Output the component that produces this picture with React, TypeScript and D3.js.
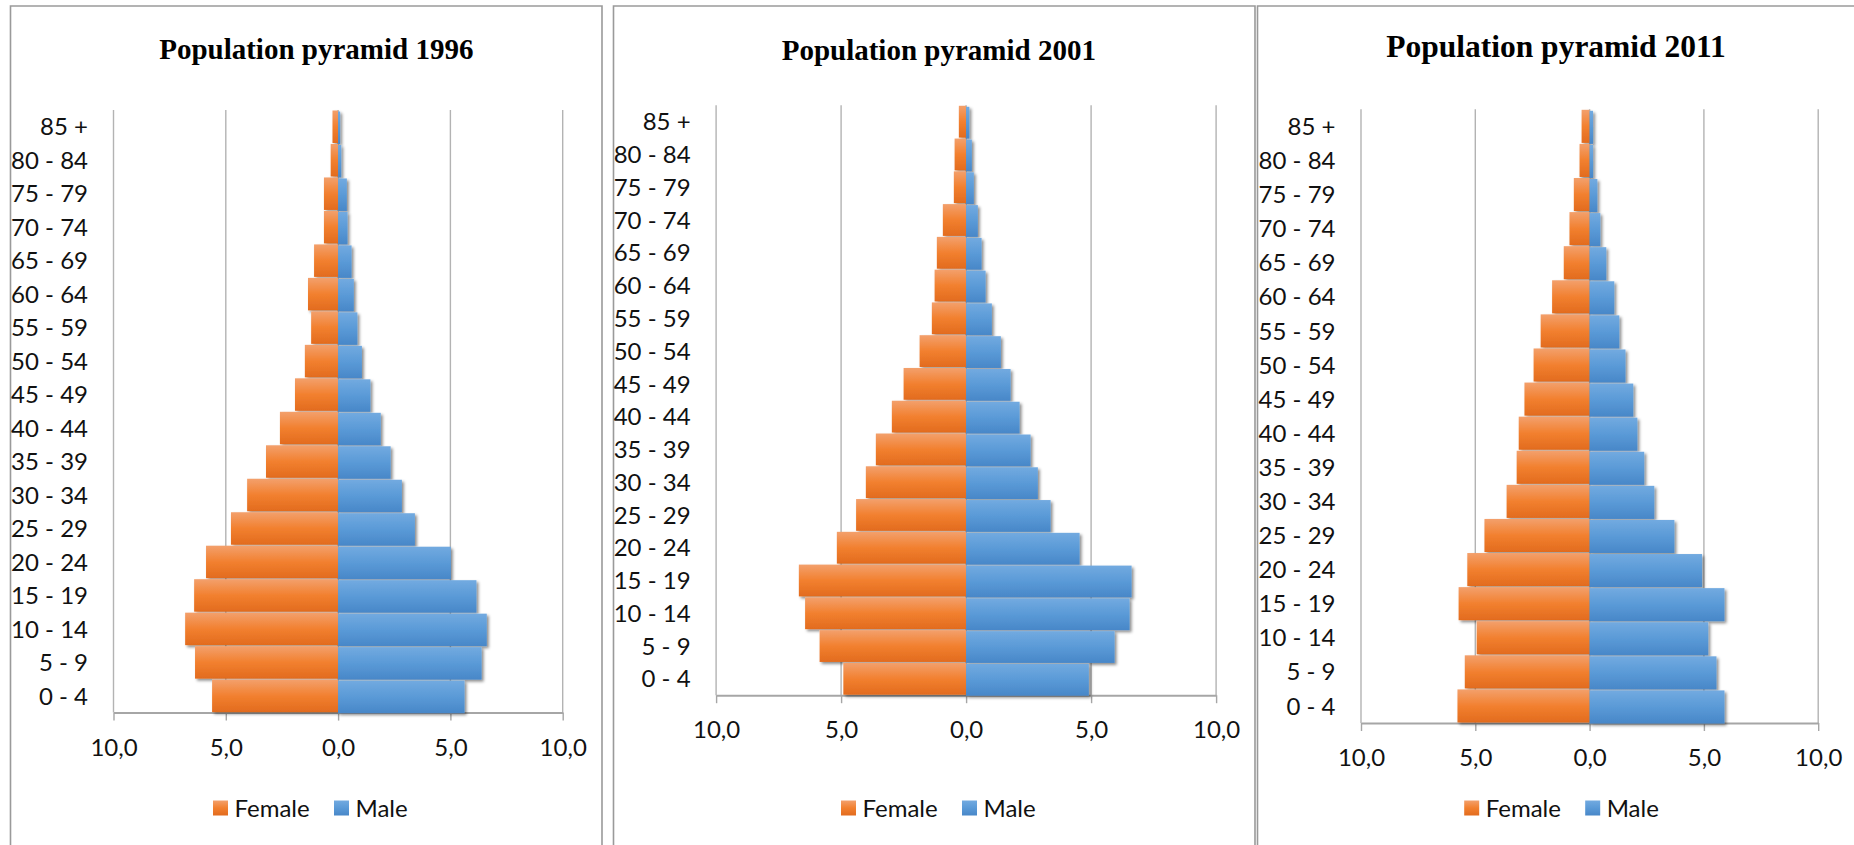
import React, { useRef, useEffect } from 'react';
import * as d3 from 'd3';

// age groups, bottom to top
const ageGroups = [
  '0 - 4', '5 - 9', '10 - 14', '15 - 19', '20 - 24', '25 - 29', '30 - 34', '35 - 39', '40 - 44',
  '45 - 49', '50 - 54', '55 - 59', '60 - 64', '65 - 69', '70 - 74', '75 - 79', '80 - 84', '85 +',
];

// share of population (%) per age group
const female1996 = [5.61, 6.37, 6.81, 6.41, 5.88, 4.77, 4.05, 3.21, 2.59, 1.92, 1.48, 1.2, 1.34, 1.07, 0.63, 0.63, 0.33, 0.25];
const male1996 = [5.63, 6.39, 6.62, 6.16, 5.02, 3.42, 2.84, 2.34, 1.9, 1.44, 1.06, 0.86, 0.7, 0.6, 0.42, 0.39, 0.14, 0.09];

const female2001 = [4.91, 5.86, 6.44, 6.69, 5.17, 4.4, 4.01, 3.61, 2.97, 2.5, 1.86, 1.37, 1.26, 1.17, 0.93, 0.49, 0.46, 0.29];
const male2001 = [4.91, 5.94, 6.54, 6.62, 4.54, 3.38, 2.87, 2.58, 2.14, 1.78, 1.39, 1.03, 0.78, 0.62, 0.47, 0.31, 0.23, 0.13];

const female2011 = [5.78, 5.46, 4.94, 5.73, 5.35, 4.6, 3.63, 3.19, 3.1, 2.85, 2.45, 2.14, 1.64, 1.13, 0.88, 0.69, 0.44, 0.35];
const male2011 = [5.9, 5.55, 5.19, 5.9, 4.92, 3.71, 2.83, 2.39, 2.09, 1.91, 1.57, 1.3, 1.08, 0.73, 0.47, 0.34, 0.15, 0.15];

const years = ['1996', '2001', '2011'];
const seriesNames = ['Female', 'Male'];
const tickValues = [-10, -5, 0, 5, 10];

const LABEL_FONT = 'Lato, "Open Sans", sans-serif';
const TITLE_FONT = '"Liberation Serif", "Times New Roman", serif';

const App: React.FC = () => {
  const svgRef = useRef<SVGSVGElement>(null);

  useEffect(() => {
    if (!svgRef.current) return;
    const svg = d3.select(svgRef.current);
    svg.selectAll('*').remove();

    const panels = [
      {
        year: years[0], female: female1996, male: male1996,
        box: [10.5, 602], left: 113.5, right: 562.7, top: 110, bottom: 712.6,
        titleX: 316.3, titleY: 59.3, titleSize: 29, legendX: 213,
      },
      {
        year: years[1], female: female2001, male: male2001,
        box: [613.5, 1255], left: 716.1, right: 1216.1, top: 105.3, bottom: 695.2,
        titleX: 938.8, titleY: 60, titleSize: 29, legendX: 841,
      },
      {
        year: years[2], female: female2011, male: male2011,
        box: [1257.5, 1870], left: 1361, right: 1818.2, top: 109.3, bottom: 723,
        titleX: 1556, titleY: 56.7, titleSize: 31.5, legendX: 1464.2,
      },
    ];

    const defs = svg.append('defs');

    const addGradient = (id: string, stops: string[]) => {
      const g = defs.append('linearGradient').attr('id', id)
        .attr('x1', 0).attr('y1', 0).attr('x2', 0).attr('y2', 1);
      stops.forEach((c, i) => {
        g.append('stop').attr('offset', `${(i / (stops.length - 1)) * 100}%`).attr('stop-color', c);
      });
    };
    addGradient('grad-female', ['#f3a06c', '#f2802f', '#e26b1e']);
    addGradient('grad-male', ['#72aae0', '#5a9ad7', '#4887c8']);

    const shadow = defs.append('filter').attr('id', 'bar-shadow')
      .attr('x', '-10%').attr('y', '-20%').attr('width', '130%').attr('height', '160%');
    shadow.append('feDropShadow')
      .attr('dx', 2).attr('dy', 2).attr('stdDeviation', 1.6)
      .attr('flood-color', '#000').attr('flood-opacity', 0.45);

    const fills = ['url(#grad-female)', 'url(#grad-male)'];
    const fmt = (d: number) => d3.format('.1f')(Math.abs(d)).replace('.', ',');

    panels.forEach((p) => {
      const g = svg.append('g');

      // panel frame
      g.append('path')
        .attr('d', `M${p.box[0]},850 V${6} H${p.box[1]} V850`)
        .attr('fill', 'none')
        .attr('stroke', '#9a9a9a')
        .attr('stroke-width', 1.6);

      g.append('text')
        .attr('x', p.titleX)
        .attr('y', p.titleY)
        .attr('text-anchor', 'middle')
        .style('font-family', TITLE_FONT)
        .style('font-weight', 'bold')
        .style('font-size', `${p.titleSize}px`)
        .attr('fill', '#000')
        .text(`Population pyramid ${p.year}`);

      const x = d3.scaleLinear().domain([-10, 10]).range([p.left, p.right]);
      const y = d3.scaleBand()
        .domain([...ageGroups].reverse())
        .range([p.top, p.bottom])
        .paddingInner(0.03)
        .paddingOuter(0.015);

      // vertical gridlines
      g.append('g')
        .selectAll('line')
        .data(tickValues)
        .enter()
        .append('line')
        .attr('x1', (d) => x(d))
        .attr('x2', (d) => x(d))
        .attr('y1', p.top)
        .attr('y2', p.bottom)
        .attr('stroke', '#b3b3b3')
        .attr('stroke-width', 1.4);

      // x axis
      const axis = g.append('g')
        .attr('transform', `translate(0,${p.bottom})`)
        .call(
          d3.axisBottom(x)
            .tickValues(tickValues)
            .tickFormat((d) => fmt(d as number))
            .tickSize(8)
            .tickSizeOuter(0)
            .tickPadding(18)
        );
      axis.select('.domain').attr('stroke', '#a6a6a6').attr('stroke-width', 2);
      axis.selectAll('.tick line').attr('stroke', '#a6a6a6').attr('stroke-width', 1.4);
      axis.selectAll('.tick text')
        .style('font-family', LABEL_FONT)
        .style('font-size', '24px')
        .attr('fill', '#111');

      // bars
      const rows = ageGroups.map((age, i) => ({ age, f: p.female[i], m: p.male[i] }));
      const bars = g.append('g').attr('filter', 'url(#bar-shadow)');
      bars.selectAll('.bar-female')
        .data(rows)
        .enter()
        .append('rect')
        .attr('class', 'bar-female')
        .attr('x', (d) => x(-d.f))
        .attr('width', (d) => x(0) - x(-d.f))
        .attr('y', (d) => y(d.age) as number)
        .attr('height', y.bandwidth())
        .attr('fill', fills[0]);
      bars.selectAll('.bar-male')
        .data(rows)
        .enter()
        .append('rect')
        .attr('class', 'bar-male')
        .attr('x', x(0))
        .attr('width', (d) => x(d.m) - x(0))
        .attr('y', (d) => (y(d.age) as number) + 1)
        .attr('height', y.bandwidth())
        .attr('fill', fills[1]);

      // category labels
      g.append('g')
        .selectAll('text')
        .data(ageGroups)
        .enter()
        .append('text')
        .attr('x', p.left - 25.5)
        .attr('y', (d) => (y(d) as number) + y.bandwidth() / 2)
        .attr('dy', '0.36em')
        .attr('text-anchor', 'end')
        .style('font-family', LABEL_FONT)
        .style('font-size', '24px')
        .attr('fill', '#111')
        .text((d) => d);

      // legend
      const legend = g.append('g').attr('transform', `translate(${p.legendX},808)`);
      const offsets = [0, 121];
      seriesNames.forEach((name, i) => {
        legend.append('rect')
          .attr('x', offsets[i])
          .attr('y', -7.5)
          .attr('width', 15)
          .attr('height', 15)
          .attr('fill', fills[i]);
        legend.append('text')
          .attr('x', offsets[i] + 21.5)
          .attr('y', 0)
          .attr('dy', '0.36em')
          .style('font-family', LABEL_FONT)
          .style('font-size', '24px')
          .attr('fill', '#111')
          .text(name);
      });
    });
  }, []);

  return (
    <svg
      ref={svgRef}
      width={1854}
      height={845}
      style={{ position: 'absolute', left: 0, top: 0, background: '#fff' }}
    />
  );
};

export default App;
